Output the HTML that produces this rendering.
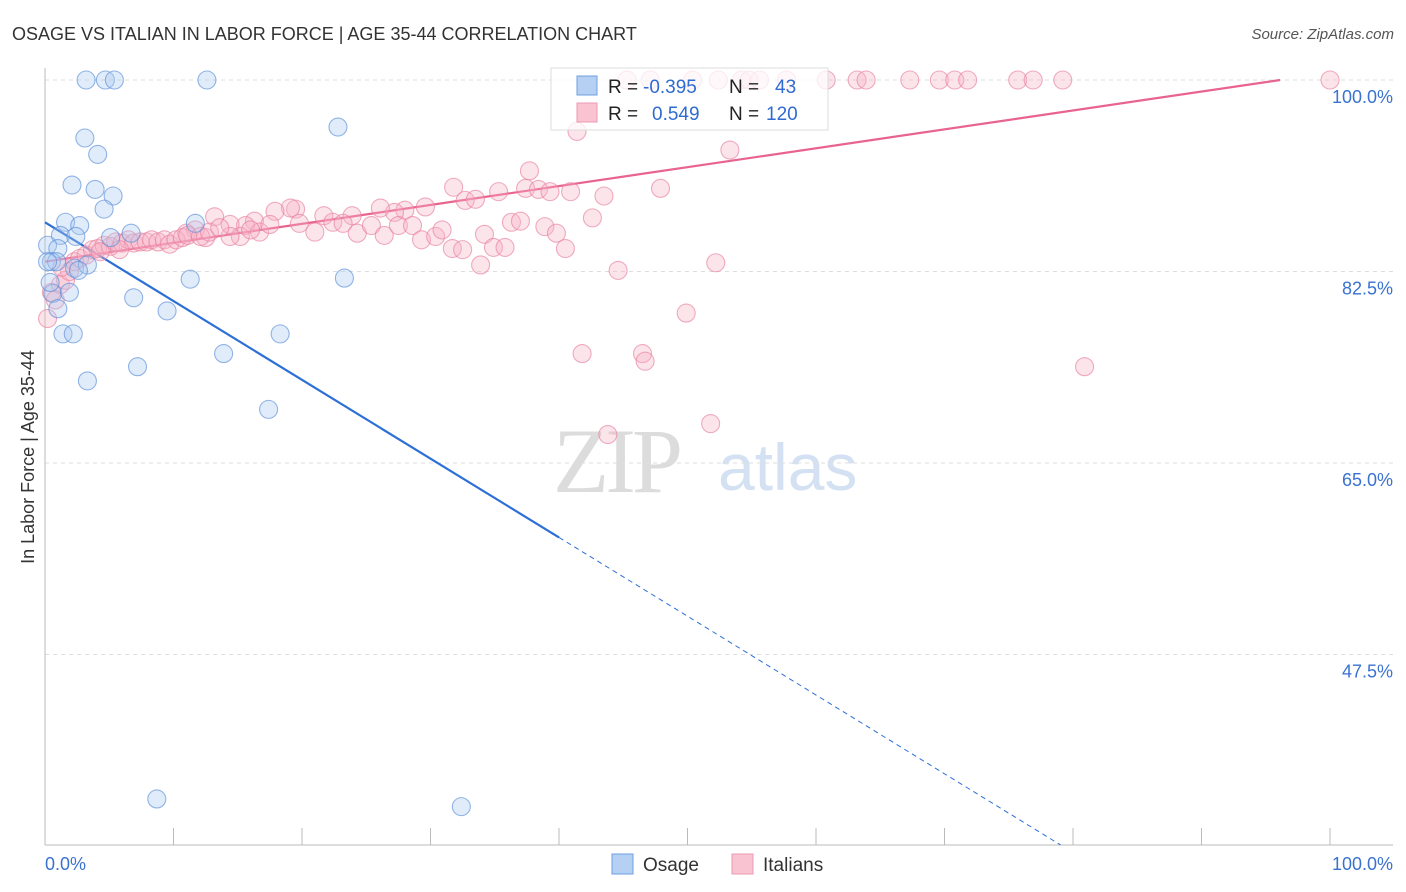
<!DOCTYPE html>
<html><head><meta charset="utf-8"><style>
body{margin:0;background:#fff;font-family:"Liberation Sans",sans-serif;}
svg{display:block}
</style></head><body>
<svg id="chart" width="1406" height="892" xmlns="http://www.w3.org/2000/svg">
<text x="12" y="40" font-size="18" fill="#333">OSAGE VS ITALIAN IN LABOR FORCE | AGE 35-44 CORRELATION CHART</text>
<text x="1394" y="39" font-size="15" fill="#555" text-anchor="end" font-style="italic">Source: ZipAtlas.com</text>
<g>
<text x="553" y="492" font-size="92" font-family="Liberation Serif,serif" fill="#dcdcdc" letter-spacing="-4">ZIP</text>
<text x="718" y="490" font-size="66" fill="#d3e1f3">atlas</text>
</g>
<g id="grid"></g>
<g id="axes"></g>
<g id="trend"></g>
<g id="pts"></g>
<text transform="translate(34,457) rotate(-90)" font-size="18" fill="#333" text-anchor="middle">In Labor Force | Age 35-44</text>
<g>
<rect x="551" y="68" width="277" height="62" fill="#fff" fill-opacity="0.75" stroke="#ddd"/>
<rect x="577" y="76" width="20" height="19" fill="#b5d0f3" stroke="#6f9fe0"/>
<rect x="577" y="103" width="20" height="19" fill="#f9c3d2" stroke="#ec9ab2"/>
<text x="608" y="93" font-size="19" fill="#222">R = </text><text x="643" y="93" font-size="19" fill="#2f6bd0">-0.395</text>
<text x="729" y="93" font-size="19" fill="#222">N = </text><text x="775" y="93" font-size="19" fill="#2f6bd0">43</text>
<text x="608" y="120" font-size="19" fill="#222">R = </text><text x="652" y="120" font-size="19" fill="#2f6bd0">0.549</text>
<text x="729" y="120" font-size="19" fill="#222">N = </text><text x="766" y="120" font-size="19" fill="#2f6bd0">120</text>
</g>
<g>
<rect x="612" y="854" width="21" height="20" fill="#b5d0f3" stroke="#6f9fe0"/>
<text x="643" y="871" font-size="19" fill="#333">Osage</text>
<rect x="732" y="854" width="21" height="20" fill="#f9c3d2" stroke="#ec9ab2"/>
<text x="763" y="871" font-size="19" fill="#333">Italians</text>
</g>
</svg>
<script>
const yTicks=[100,82.5,65,47.5];
const yTickLabels=["100.0%","82.5%","65.0%","47.5%"];
const xTickLabels=["0.0%","100.0%"];
const osageX=[3.2,4.7,5.4,12.6,22.8,3.1,4.1,2.1,3.9,5.3,4.6,1.6,2.7,11.7,6.7,1.2,2.4,5.1,0.2,1.0,0.5,0.9,0.2,2.3,3.3,2.6,23.3,11.3,0.6,1.9,6.9,9.5,1.0,1.4,2.2,18.3,13.9,7.2,3.3,17.4,8.7,32.4,0.4];
const osageY=[100,100,100,100,95.7,94.7,93.2,90.4,90.0,89.4,88.2,87.0,86.7,86.9,86.0,85.8,85.7,85.6,84.9,84.6,83.4,83.4,83.4,82.8,83.1,82.6,81.9,81.8,80.5,80.6,80.1,78.9,79.1,76.8,76.8,76.8,75.0,73.8,72.5,69.9,34.3,33.6,81.5];
const italX=[45.3,47.1,50.4,52.4,54.2,54.8,55.6,57.7,60.8,63.2,63.9,67.3,69.6,70.8,71.8,75.7,76.9,79.2,100.0,
41.4,53.3,37.7,31.8,35.3,37.4,38.4,39.3,40.9,43.5,47.9,32.7,33.5,29.6,28.0,27.2,26.1,23.9,21.7,19.5,19.1,17.9,16.3,15.6,13.2,14.4,11.7,11.0,12.5,16.7,15.2,14.4,17.5,19.8,21.0,22.4,23.2,24.3,25.4,26.4,27.5,28.6,29.3,30.4,30.9,31.7,32.5,33.9,34.2,34.9,35.8,36.3,37.0,38.9,39.8,40.5,42.6,44.6,52.2,49.9,41.8,46.5,46.7,80.9,43.8,51.8,
0.2,0.5,1.2,1.6,1.9,1.3,2.3,2.7,3.2,3.7,4.1,4.6,5.1,5.5,6.0,6.5,6.9,7.4,7.9,8.3,8.8,9.3,9.7,10.2,10.7,11.1,12.1,12.8,13.6,16.0,5.8,4.3,0.8];
const italY=[100,100,100,100,100,100,100,100,100,100,100,100,100,100,100,100,100,100,100,
95.3,93.6,91.7,90.2,89.8,90.1,90.0,89.8,89.8,89.4,90.1,89.0,89.1,88.4,88.1,87.9,88.3,87.6,87.6,88.2,88.3,88.0,87.1,86.7,87.5,86.8,86.3,86.0,85.6,86.1,85.7,85.7,86.8,86.9,86.1,87.0,86.9,86.0,86.7,85.8,86.7,86.7,85.4,85.7,86.3,84.6,84.5,83.1,85.9,84.7,84.7,87.0,87.1,86.6,86.0,84.6,87.4,82.6,83.3,78.7,75.0,75.0,74.3,73.8,67.6,68.6,
78.2,80.6,81.3,81.7,82.5,82.9,83.4,83.7,84.0,84.5,84.6,84.9,84.8,85.2,85.1,85.4,85.1,85.2,85.2,85.4,85.2,85.4,85.0,85.4,85.6,85.8,85.7,86.1,86.5,86.3,84.5,84.3,79.9];
const osageTrend=[87.0,-0.72];
const italTrend=[83.4,0.1727];
const NS="http://www.w3.org/2000/svg";
const sx=v=>45+v*12.85;
const sy=v=>80+(100-v)*10.943;
function mk(t,a,p){const e=document.createElementNS(NS,t);for(const k in a)e.setAttribute(k,a[k]);p.appendChild(e);return e;}
const grid=document.getElementById('grid'),axes=document.getElementById('axes'),trend=document.getElementById('trend'),pts=document.getElementById('pts');
yTicks.forEach((t,i)=>{
 const l=mk('line',{x1:45,x2:1393,y1:sy(t),y2:sy(t),stroke:'#dedede','stroke-dasharray':'4,4'},grid);
 
 
 const tx=mk('text',{x:1393,y:sy(t)+23,'font-size':18,fill:'#3a72d0','text-anchor':'end'},axes);
 tx.textContent=yTickLabels[i];
 
 
});
const ya=mk('line',{x1:45,x2:45,y1:68,y2:845,stroke:'#bbb'},axes);


const xa=mk('line',{x1:45,x2:1393,y1:845,y2:845,stroke:'#bbb'},axes);


for(let i=1;i<=10;i++){const tk=mk('line',{x1:sx(i*10),x2:sx(i*10),y1:828,y2:845,stroke:'#bbb'},axes);
 
 }
const xl0=mk('text',{x:45,y:870,'font-size':18,fill:'#3a72d0'},axes);xl0.textContent=xTickLabels[0];


const xl1=mk('text',{x:1393,y:870,'font-size':18,fill:'#3a72d0','text-anchor':'end'},axes);xl1.textContent=xTickLabels[1];


function drawPts(X,Y,fill,stroke,name){X.forEach((x,i)=>{const c=mk('circle',{cx:sx(x),cy:sy(Y[i]),r:9,fill:fill,'fill-opacity':0.35,stroke:stroke,'stroke-width':1.1,'stroke-opacity':0.65},pts);
 
 });}
drawPts(italX,italY,'#f7b3c6','#e8819f','point-italians');
drawPts(osageX,osageY,'#a9c8f1','#5a8fd8','point-osage');
const oy=x=>osageTrend[0]+osageTrend[1]*x;
const xEnd=(30.1-osageTrend[0])/osageTrend[1];
const t1=mk('line',{x1:sx(0),y1:sy(oy(0)),x2:sx(40),y2:sy(oy(40)),stroke:'#2c6fd6','stroke-width':2.2},trend);


const t2=mk('line',{x1:sx(40),y1:sy(oy(40)),x2:sx(xEnd),y2:sy(oy(xEnd)),stroke:'#2c6fd6','stroke-width':1,'stroke-dasharray':'5,4'},trend);


const iy=x=>italTrend[0]+italTrend[1]*x;
const xi=(100-italTrend[0])/italTrend[1];
const t3=mk('line',{x1:sx(0),y1:sy(iy(0)),x2:sx(xi),y2:sy(100),stroke:'#e8638e','stroke-width':2.2},trend);


</script>
</body></html>
